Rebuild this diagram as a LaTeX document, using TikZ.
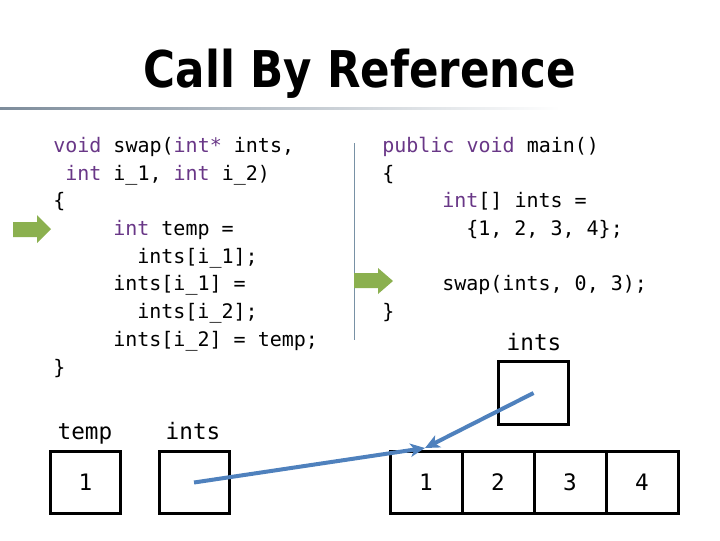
\documentclass[tikz,border=0pt]{standalone}
\usepackage{fontspec}
\usepackage{graphicx}
\usetikzlibrary{arrows.meta}
\newfontfamily\codefnt{DejaVu Sans Mono}
\newfontfamily\titlefnt{DejaVu Sans}
\definecolor{kw}{RGB}{105,55,135}
\definecolor{arrowgreen}{RGB}{139,176,79}
\definecolor{ptrblue}{RGB}{79,129,189}
\definecolor{rulegray}{RGB}{125,140,155}
\definecolor{sepgray}{RGB}{120,145,165}
\newcommand\kwd[1]{\textcolor{kw}{#1}}
\begin{document}
\begin{tikzpicture}[x=0.75pt,y=-0.75pt,
  code/.style={anchor=base west, inner sep=0, font=\codefnt\fontsize{15pt}{18pt}\selectfont},
  lbl/.style={anchor=base, inner sep=0, font=\codefnt\fontsize{17pt}{20pt}\selectfont},
  box/.style={draw, line width=2.25pt, minimum width=52.5pt, minimum height=47pt, inner sep=0, outer sep=0, font=\codefnt\fontsize{17pt}{20pt}\selectfont},
  cell/.style={box, minimum width=54pt},
  ptr/.style={draw=ptrblue, line width=3pt, -{Stealth[length=11pt,width=10pt,inset=3pt]}},
  greenarrow/.style={fill=arrowgreen}]
\useasboundingbox (0,0) rectangle (720,540);
% title and rule
\node[anchor=base, inner sep=0, font=\titlefnt\bfseries\fontsize{38pt}{40pt}\selectfont] (title) at (360,87) {\scalebox{0.86}[1]{Call By Reference}};
\shade[left color=rulegray, middle color=rulegray!85, right color=white] (0,107) rectangle (560,109);
% separator
\draw[sepgray, line width=0.75pt] (354,143) -- (354,340);
% left code
\node[code] (l1) at (53,152) {\kwd{void} swap(\kwd{int*} ints,};
\node[code] (l2) at (65,180) {\kwd{int} i\_1, \kwd{int} i\_2)};
\node[code] (l3) at (53,207.5) {\{};
\node[code] (l4) at (113,235) {\kwd{int} temp =};
\node[code] (l5) at (137,263) {ints[i\_1];};
\node[code] (l6) at (113,290.5) {ints[i\_1] =};
\node[code] (l7) at (137,318) {ints[i\_2];};
\node[code] (l8) at (113,346) {ints[i\_2] = temp;};
\node[code] (l9) at (53,374) {\}};
% right code
\node[code] (r1) at (382,152) {\kwd{public void} main()};
\node[code] (r2) at (382,180) {\{};
\node[code] (r3) at (442,207.5) {\kwd{int}[] ints =};
\node[code] (r4) at (466,235) {\{1, 2, 3, 4\};};
\node[code] (r5) at (442,290.5) {swap(ints, 0, 3);};
\node[code] (r6) at (382,318) {\}};
% green arrows
\fill[greenarrow] (13,222) -- (37,222) -- (37,215) -- (51,229) -- (37,243) -- (37,237) -- (13,237) -- cycle;
\fill[greenarrow] (354,273) -- (378,273) -- (378,268) -- (393,281) -- (378,294) -- (378,288) -- (354,288) -- cycle;
% boxes
\node[lbl] (tlbl) at (85,439) {temp};
\node[lbl] (ilbl) at (193,439) {ints};
\node[lbl] (mlbl) at (534,350) {ints};
\node[box] (tbox) at (85.5,482.5) {1};
\node[box] (ibox) at (194,482.5) {};
\node[box] (mbox) at (533.5,393) {};
\node[cell] (c1) at (426,482.5) {1};
\node[cell] (c2) at (498,482.5) {2};
\node[cell] (c3) at (570,482.5) {3};
\node[cell] (c4) at (642,482.5) {4};
% pointers
\coordinate (tip) at (425,448);
\draw[ptr] (ibox.center) -- (tip);
\draw[ptr] (mbox.center) -- (tip);
\end{tikzpicture}
\end{document}
